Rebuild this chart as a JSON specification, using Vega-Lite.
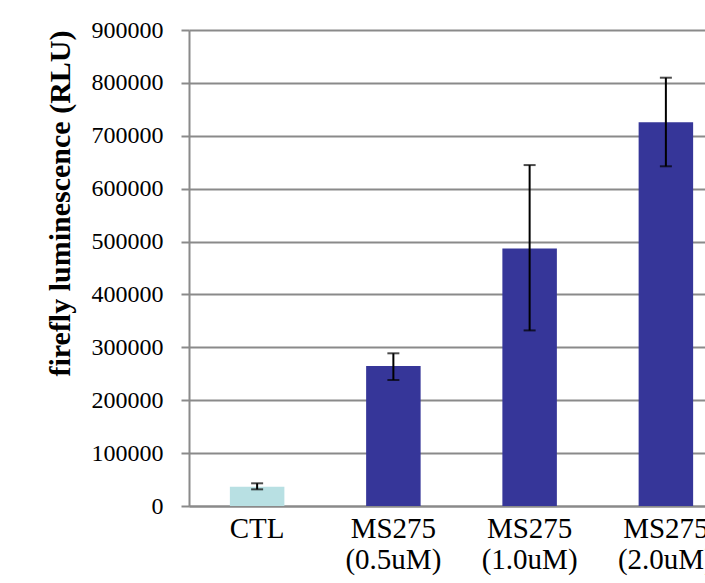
{
  "$schema": "https://vega.github.io/schema/vega-lite/v6.json",
  "width": 545,
  "height": 476,
  "autosize": {"type": "none"},
  "padding": {"left": 189, "top": 30, "right": 0, "bottom": 77},
  "background": "white",
  "config": {"view": {"stroke": null}, "font": "Liberation Serif"},
  "data": {
    "values": [
      {"label": "CTL", "kind": "control", "value": 36500, "lo": 31500, "hi": 42900},
      {"label": "MS275|(0.5uM)", "kind": "treatment", "value": 264700, "lo": 238200, "hi": 288700},
      {"label": "MS275|(1.0uM)", "kind": "treatment", "value": 487000, "lo": 332000, "hi": 644600},
      {"label": "MS275|(2.0uM)", "kind": "treatment", "value": 725500, "lo": 642300, "hi": 809800}
    ]
  },
  "encoding": {
    "x": {
      "field": "label",
      "type": "nominal",
      "sort": null,
      "scale": {"paddingInner": 0.6, "paddingOuter": 0.3},
      "axis": {
        "title": null,
        "labelAngle": 0,
        "labelExpr": "split(datum.label, '|')",
        "labelFont": "Liberation Serif",
        "labelFontSize": 29,
        "labelLineHeight": 31,
        "labelColor": "black",
        "labelPadding": 8,
        "ticks": false,
        "domainColor": "#8a8a8a",
        "domainWidth": 2
      }
    }
  },
  "layer": [
    {
      "mark": {"type": "bar"},
      "encoding": {
        "y": {
          "field": "value",
          "type": "quantitative",
          "scale": {"domain": [0, 900000], "nice": false},
          "axis": {
            "title": "firefly luminescence (RLU)",
            "titleFont": "Liberation Serif",
            "titleFontSize": 30,
            "titleFontWeight": "bold",
            "titleColor": "black",
            "titleAnchor": "end",
            "titlePadding": 16,
            "values": [0, 100000, 200000, 300000, 400000, 500000, 600000, 700000, 800000, 900000],
            "format": "d",
            "labelFont": "Liberation Serif",
            "labelFontSize": 24,
            "labelColor": "black",
            "labelPadding": 18,
            "tickSize": 8,
            "tickColor": "#8a8a8a",
            "tickWidth": 2,
            "domainColor": "#8a8a8a",
            "domainWidth": 2,
            "grid": true,
            "gridColor": "#8a8a8a",
            "gridWidth": 2
          }
        },
        "color": {
          "field": "kind",
          "type": "nominal",
          "scale": {"domain": ["control", "treatment"], "range": ["#b8e0e3", "#363699"]},
          "legend": null
        }
      }
    },
    {
      "mark": {"type": "rule", "color": "black", "strokeWidth": 2},
      "encoding": {
        "y": {"field": "lo", "type": "quantitative", "title": "firefly luminescence (RLU)"},
        "y2": {"field": "hi"}
      }
    },
    {
      "mark": {"type": "tick", "color": "black", "thickness": 2, "size": 12},
      "encoding": {
        "y": {"field": "hi", "type": "quantitative", "title": "firefly luminescence (RLU)"}
      }
    },
    {
      "mark": {"type": "tick", "color": "black", "thickness": 2, "size": 12},
      "encoding": {
        "y": {"field": "lo", "type": "quantitative", "title": "firefly luminescence (RLU)"}
      }
    }
  ]
}
